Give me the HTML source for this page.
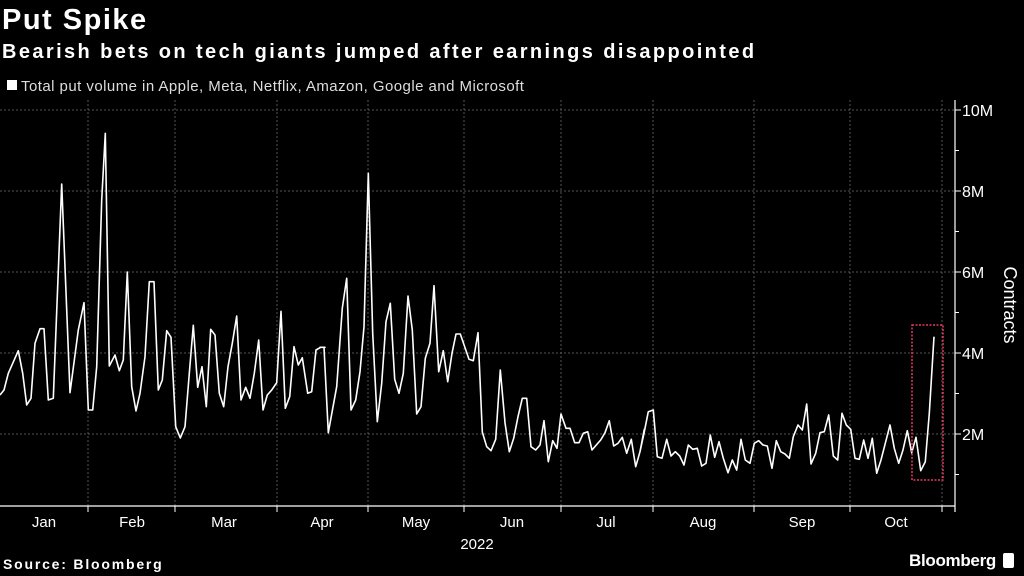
<!DOCTYPE html>
<html><head><meta charset="utf-8"><style>
html,body{margin:0;padding:0;background:#000;width:1024px;height:576px;overflow:hidden}
svg{display:block}
text{font-family:"Liberation Sans","DejaVu Sans",sans-serif;fill:#fff}
</style></head><body>
<svg id="s" width="1024" height="576" viewBox="0 0 1024 576">
<rect width="1024" height="576" fill="#000"/>
<text x="2" y="29" font-size="29" font-weight="bold" letter-spacing="1.5">Put Spike</text>
<text x="2" y="58" font-size="20" font-weight="bold" letter-spacing="2.4">Bearish bets on tech giants jumped after earnings disappointed</text>
<rect x="7" y="80" width="10" height="10" fill="#fff"/>
<text x="21" y="91" font-size="15" letter-spacing="0.45" style="fill:#ddd">Total put volume in Apple, Meta, Netflix, Amazon, Google and Microsoft</text>
<g id="grid" stroke="#555" stroke-width="1" stroke-dasharray="2,2" fill="none"></g>
<g stroke="#fff" stroke-width="1.2" fill="none">
<line x1="955" y1="100" x2="955" y2="512"/>
<line x1="0" y1="506" x2="955" y2="506"/>
</g>
<g id="ticks" stroke="#fff" stroke-width="1"></g>
<g font-size="16">
<text x="962" y="116">10M</text>
<text x="962" y="197">8M</text>
<text x="962" y="278">6M</text>
<text x="962" y="359">4M</text>
<text x="962" y="440">2M</text>
</g>
<text transform="translate(1004,305) rotate(90)" font-size="18" text-anchor="middle">Contracts</text>
<g font-size="15" text-anchor="middle">
<text x="44" y="527">Jan</text><text x="132" y="527">Feb</text><text x="224" y="527">Mar</text>
<text x="322" y="527">Apr</text><text x="416" y="527">May</text><text x="512" y="527">Jun</text>
<text x="606" y="527">Jul</text><text x="703" y="527">Aug</text><text x="802" y="527">Sep</text>
<text x="896" y="527">Oct</text>
<text x="477" y="549">2022</text>
</g>
<text x="3" y="569" font-size="14" font-weight="bold" letter-spacing="1.8">Source: Bloomberg</text>
<text x="996" y="566" font-size="17" font-weight="bold" text-anchor="end" letter-spacing="-0.3">Bloomberg</text>
<rect x="1003" y="553" width="11" height="15" rx="2" fill="#fff"/>
<polyline id="line" fill="none" stroke="#fff" stroke-width="1.6" stroke-linejoin="round"/>
<rect x="912" y="325" width="31" height="155" fill="none" stroke="#e8375a" stroke-width="1.5" stroke-dasharray="2,1.5"/>
</svg>
<script>
var NS="http://www.w3.org/2000/svg";
var g=document.getElementById('grid'),t=document.getElementById('ticks');
function ln(p,a,b,c,d){var l=document.createElementNS(NS,'line');l.setAttribute('x1',a);l.setAttribute('y1',b);l.setAttribute('x2',c);l.setAttribute('y2',d);p.appendChild(l);}
[110,191,272,353,434].forEach(function(y){ln(g,0,y,955,y);});
[88,175,277,368,464,561,653,754,850,942].forEach(function(x){ln(g,x,100,x,506);ln(t,x,506,x,512);});
for(var i=1;i<=10;i++){var y=515-i*40.5;ln(t,955,y,i%2==0?961:959,y);}
var z1=[0,885,12,870,25,820,55,752,68,820,80,915,93,895,105,730,120,686,132,686,145,900,160,895,185,252,210,878,235,690,252,608,265,930,278,930,290,800,305,300,316,100,328,798,345,765,358,812,370,780,382,516,395,860,408,933,420,880,435,770,448,545,462,545,475,870,487,840,500,692,513,712,527,980,541,1014,555,980,568,820,580,676,593,862,606,800,619,920,632,688,645,705,658,880,671,920,684,800,697,730,710,648,723,900,737,862,750,895,763,820,776,720,789,930,802,885,815,870,830,848,843,634,856,925,869,890,882,740,895,795,907,773,923,880,935,875,948,750,962,742,975,742];
var z2=[0,742,12,742,25,998,50,860,67,625,80,535,93,930,107,900,120,815,132,680,145,220,158,700,172,965,185,850,198,665,211,610,224,838,237,880,250,820,264,588,277,690,290,942,303,920,316,775,330,730,342,557,356,815,370,752,383,845,396,760,408,702,421,702,434,740,447,778,460,782,474,698,487,996,500,1040,513,1052,527,1018,541,810,555,968,568,1055,581,1015,594,950,607,895,620,895,633,1040,647,1050,660,1035,672,962,685,1085,698,1022,711,1045,723,942,738,985,750,985,764,1028,777,1028,790,1000,803,995,816,1050,829,1035,842,1020,855,998,868,962,881,1038,894,1030,907,1012,920,1060,934,1018,947,1100,960,1055,973,988];
var z3=[0,1055,12,1000,25,935,40,930,52,1070,66,1075,80,1018,93,1068,106,1055,119,1068,132,1095,145,1035,158,1048,172,1045,185,1098,198,1090,211,1005,224,1072,237,1025,250,1075,264,1118,277,1080,290,1110,303,1018,316,1080,330,1090,343,1030,356,1022,369,1035,382,1038,396,1105,409,1022,422,1055,435,1062,448,1075,460,1010,474,975,487,990,500,912,513,1092,527,1060,540,998,553,995,566,945,580,1068,593,1080,606,940,619,975,632,988,645,1075,658,1078,671,1020,684,1075,697,1015,710,1120,723,1080,736,1030,750,975,763,1045,776,1090,789,1050,802,992,815,1058,828,1012,842,1112,856,1085,868,940,882,710];
var pts=[];
function add(a,ox){for(var i=0;i<a.length;i+=2){pts.push((ox+a[i]/3).toFixed(1)+','+(100+a[i+1]/3).toFixed(1));}}
add(z1,0);add(z2,320);add(z3,640);
document.getElementById('line').setAttribute('points',pts.join(' '));
</script>
</body></html>
